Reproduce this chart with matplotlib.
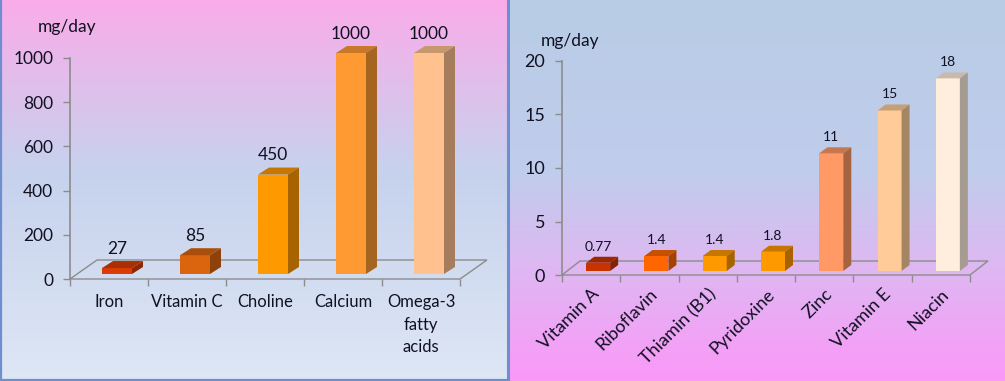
import numpy as np
import matplotlib.pyplot as plt
from matplotlib.patches import Polygon, Rectangle
from matplotlib.colors import to_rgb

plt.rcParams['font.family'] = ['Lato', 'DejaVu Sans']

W, H = 1005, 381

# left chart: minerals (mg/day)
minerals = ['Iron', 'Vitamin C', 'Choline', 'Calcium', 'Omega-3\nfatty\nacids']
mineral_vals = [27, 85, 450, 1000, 1000]
mineral_labels = ['27', '85', '450', '1000', '1000']
mineral_colors = ['#DB3C06', '#DA650E', '#FF9900', '#FF9A33', '#FFC18D']
mineral_ticks = [0, 200, 400, 600, 800, 1000]

# right chart: vitamins (mg/day)
vitamins = ['Vitamin A', 'Riboflavin', 'Thiamin (B1)', 'Pyridoxine', 'Zinc', 'Vitamin E', 'Niacin']
vitamin_vals = [0.77, 1.4, 1.4, 1.8, 11, 15, 18]
vitamin_labels = ['0.77', '1.4', '1.4', '1.8', '11', '15', '18']
vitamin_colors = ['#C93300', '#FF6600', '#FF9900', '#FF9900', '#FF9966', '#FFCC99', '#FFEEDD']
vitamin_ticks = [0, 5, 10, 15, 20]

AXC = '#8C8C8C'
TXT = '#111122'

fig = plt.figure(figsize=(W / 100, H / 100), dpi=100)

# background gradients
bg = fig.add_axes([0, 0, 1, 1], zorder=-5)
bg.axis('off')


def gradient(stops):
    pos = np.array([s[0] for s in stops])
    cols = np.array([s[1] for s in stops], dtype=float) / 255
    t = np.linspace(0, 1, H)
    img = np.stack([np.interp(t, pos, cols[:, k]) for k in range(3)], axis=-1)
    return img[:, None, :]


left_bg = gradient([(0, (250, 172, 233)), (0.45, (198, 210, 237)), (1, (222, 231, 245))])
right_bg = gradient([(0, (184, 204, 229)), (0.45, (192, 205, 236)), (0.7, (222, 184, 242)), (1, (251, 152, 248))])
bg.imshow(left_bg, extent=(0, 508, H, 0), aspect='auto', interpolation='bilinear')
bg.imshow(right_bg, extent=(508, W, H, 0), aspect='auto', interpolation='bilinear')
bcol = '#6E8ED0'
bg.plot([1, 1], [0, H], color=bcol, lw=1.6)
bg.plot([0, 508], [379.5, 379.5], color=bcol, lw=1.6)
bg.plot([508, 508], [0, H], color=bcol, lw=2.2)
bg.set_xlim(0, W)
bg.set_ylim(H, 0)


def shade(c, f):
    r, g, b = to_rgb(c)
    return (r * f, g * f, b * f)


def panel(px, cats, vals, labels, colors, yticks, floor_d, bar_d, bar_w, bar_off, base_px,
          tick_fs, lab_fs, val_fs, rotate):
    x0, x1, ytop, ybot = px
    ax = fig.add_axes([x0 / W, 1 - ybot / H, (x1 - x0) / W, (ybot - ytop) / H])
    n = len(cats)
    ymax = yticks[-1]
    ax.set_xlim(-0.5, n - 0.5)
    ax.set_ylim(0, ymax)
    ax.set_facecolor('none')
    for s in ax.spines.values():
        s.set_visible(False)
    sx = n / (x1 - x0)
    sy = ymax / (ybot - ytop)

    # floor
    fdx, fdy = floor_d[0] * sx, floor_d[1] * sy
    floor = Polygon([(-0.5, 0), (n - 0.5, 0), (n - 0.5 + fdx, fdy), (-0.5 + fdx, fdy)],
                    closed=True, fill=False, ec=AXC, lw=1.0, clip_on=False, zorder=1)
    ax.add_patch(floor)
    ax.plot([-0.5, -0.5], [0, ymax], color=AXC, lw=1.2, clip_on=False, zorder=1)

    # bars
    bw = bar_w * sx
    ddx, ddy = bar_d[0] * sx, bar_d[1] * sy
    base = base_px * sy
    for i, (v, c, lab) in enumerate(zip(vals, colors, labels)):
        xl = i + bar_off * sx - bw / 2
        top = base + v
        ax.add_patch(Rectangle((xl, base), bw, v, fc=c, ec='none', clip_on=False, zorder=3))
        ax.add_patch(Polygon([(xl, top), (xl + bw, top), (xl + bw + ddx, top + ddy), (xl + ddx, top + ddy)],
                             fc=shade(c, 0.78), ec='none', clip_on=False, zorder=3))
        ax.add_patch(Polygon([(xl + bw, base), (xl + bw + ddx, base + ddy), (xl + bw + ddx, top + ddy), (xl + bw, top)],
                             fc=shade(c, 0.65), ec='none', clip_on=False, zorder=3))
        ax.annotate(lab, (xl + bw / 2, top + ddy), xytext=(0, 3), textcoords='offset points',
                    ha='center', va='bottom', fontsize=val_fs, color=TXT, zorder=4,
                    annotation_clip=False)

    ax.set_yticks(yticks)
    ax.set_yticklabels([str(t) for t in yticks])
    ax.tick_params(axis='y', length=5, width=1, color=AXC, pad=7, labelsize=tick_fs, labelcolor=TXT)
    ax.set_xticks(np.arange(n))
    ax.set_xticks(np.arange(n + 1) - 0.5, minor=True)
    ax.tick_params(axis='x', which='minor', length=5, width=1, color=AXC, direction='out')
    if rotate:
        ax.set_xticklabels(cats, rotation=45, ha='right', va='top', rotation_mode='anchor')
        ax.tick_params(axis='x', which='major', length=0, pad=8, labelsize=lab_fs, labelcolor=TXT)
    else:
        ax.set_xticklabels(cats, linespacing=1.5)
        ax.tick_params(axis='x', which='major', length=0, pad=11, labelsize=lab_fs, labelcolor=TXT)
    return ax


axl = panel((70, 460, 58, 279), minerals, mineral_vals, mineral_labels, mineral_colors, mineral_ticks,
            floor_d=(27, 19), bar_d=(11, 7), bar_w=30, bar_off=8, base_px=5,
            tick_fs=12.5, lab_fs=12, val_fs=12.5, rotate=False)

axr = panel((562, 970, 61, 275), vitamins, vitamin_vals, vitamin_labels, vitamin_colors, vitamin_ticks,
            floor_d=(18, 14), bar_d=(8, 6), bar_w=24, bar_off=7, base_px=4,
            tick_fs=13, lab_fs=13, val_fs=10, rotate=True)

fig.text(67 / W, 1 - 27 / H, 'mg/day', fontsize=12.5, ha='center', va='center', color=TXT)
fig.text(570 / W, 1 - 41 / H, 'mg/day', fontsize=12.5, ha='center', va='center', color=TXT)

fig.savefig('out.png', dpi=100)
